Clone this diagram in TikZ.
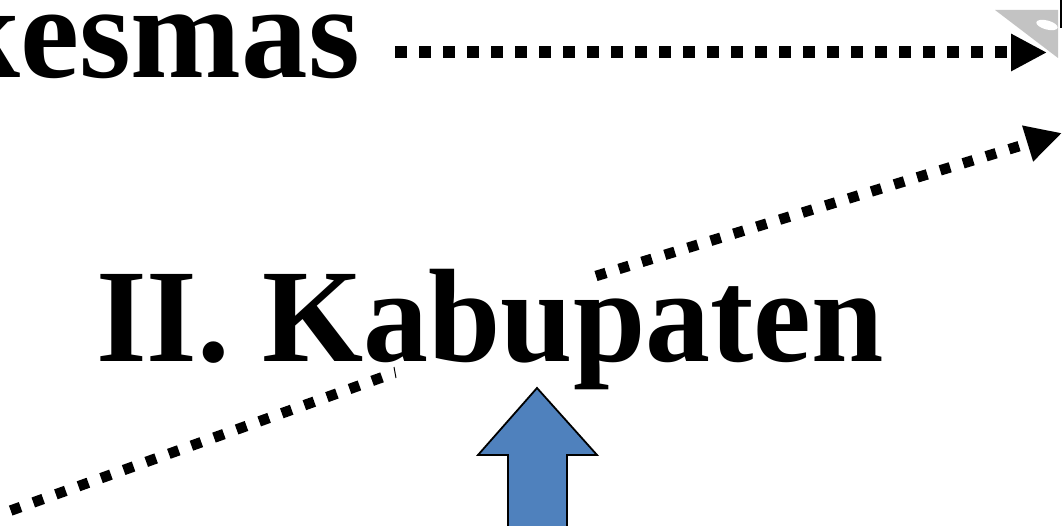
\documentclass[tikz,border=0pt]{standalone}
\usepackage{fontspec}
\setmainfont{Liberation Serif}
\usetikzlibrary{arrows.meta}
\definecolor{officeblue}{HTML}{4F81BD}
\definecolor{iconGray}{HTML}{C3C3C3}
\tikzset{
  bigtext/.style={font=\bfseries\fontsize{133}{140}\selectfont, inner sep=0pt, outer sep=0pt},
  sqdots/.style={line width=12pt, line cap=butt, dash pattern=on 12pt off 12pt},
  sqdotsthin/.style={line width=10.5pt, line cap=butt, dash pattern=on 10.5pt off 13.5pt},
  bighead/.style={-{Triangle[length=36pt,width=35pt]}},
  blockarrow/.style={fill=officeblue, draw=black, line width=1.8pt, line join=miter},
}
\begin{document}
\begin{tikzpicture}[x=1pt,y=-1pt]
\useasboundingbox (0,0) rectangle (1063,526);
% gray icon fragment at top right
\fill[iconGray] (995,10) -- (1058,10) -- (1058,58) -- cycle;
\fill[white, rotate around={-15:(1047,25)}] (1047,25) ellipse (11pt and 4.5pt);
\draw[line width=2pt] (1061,0) -- (1061,28);
% texts
\node[bigtext, anchor=base east] (kes) at (360,78) {kesmas};
\node[bigtext, anchor=base west] (kab) at (96,362) {\scalebox{0.978}[1]{II. Kabupaten}};
% horizontal dotted arrow
\coordinate (h1) at (395,52.5);
\coordinate (h2) at (1047,52.5);
\draw[sqdots, bighead] (h1) -- (h2);
% lower diagonal dotted segment
\coordinate (d1) at (-10,518);
\coordinate (d2) at (383,377);
\draw[sqdotsthin, dash phase=2] (d1) -- (d2);
\draw[line width=1pt] (394,367) -- (396,378);
% upper diagonal dotted arrow
\coordinate (u1) at (596,276);
\coordinate (u2) at (1062,133);
\draw[sqdotsthin, bighead] (u1) -- (u2);
% blue block arrow
\draw[blockarrow] (508,540) -- (508,455) -- (478,455) -- (537,388) -- (597,455) -- (567,455) -- (567,540);
\end{tikzpicture}
\end{document}
